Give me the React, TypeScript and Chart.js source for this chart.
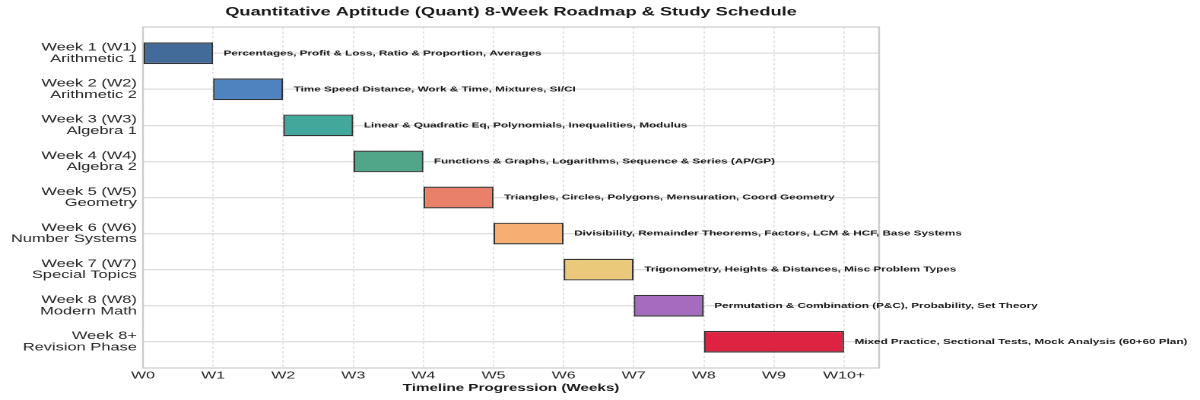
import { useEffect, useRef } from 'react';
import { Chart, registerables } from 'chart.js';

Chart.register(...registerables);

// the reference is stretched sideways, so draw narrow and let CSS widen it
const STRETCH = 1.52;
const LOGICAL_W = Math.round(1200 / STRETCH);
const FONT = '"Liberation Sans", Arial, sans-serif';

const weekLabels = [
  ['Week 1 (W1)', 'Arithmetic 1'],
  ['Week 2 (W2)', 'Arithmetic 2'],
  ['Week 3 (W3)', 'Algebra 1'],
  ['Week 4 (W4)', 'Algebra 2'],
  ['Week 5 (W5)', 'Geometry'],
  ['Week 6 (W6)', 'Number Systems'],
  ['Week 7 (W7)', 'Special Topics'],
  ['Week 8 (W8)', 'Modern Math'],
  ['Week 8+', 'Revision Phase'],
];

const startWeeks = [0, 1, 2, 3, 4, 5, 6, 7, 8];
const endWeeks = [1, 2, 3, 4, 5, 6, 7, 8, 10];

const topics = [
  'Percentages, Profit & Loss, Ratio & Proportion, Averages',
  'Time Speed Distance, Work & Time, Mixtures, SI/CI',
  'Linear & Quadratic Eq, Polynomials, Inequalities, Modulus',
  'Functions & Graphs, Logarithms, Sequence & Series (AP/GP)',
  'Triangles, Circles, Polygons, Mensuration, Coord Geometry',
  'Divisibility, Remainder Theorems, Factors, LCM & HCF, Base Systems',
  'Trigonometry, Heights & Distances, Misc Problem Types',
  'Permutation & Combination (P&C), Probability, Set Theory',
  'Mixed Practice, Sectional Tests, Mock Analysis (60+60 Plan)',
];

const barColors = [
  '#436b9a',
  '#4e83bf',
  '#42a89b',
  '#50a689',
  '#e9806a',
  '#f6ae72',
  '#ebc97a',
  '#a56bbf',
  '#de2242',
];

const xTickLabels = ['W0', 'W1', 'W2', 'W3', 'W4', 'W5', 'W6', 'W7', 'W8', 'W9', 'W10+'];

// topic text to the right of each bar + light frame around the plot
const topicLabels = {
  id: 'topicLabels',
  afterDatasetsDraw(chart: Chart) {
    const { ctx, scales } = chart;
    ctx.save();
    ctx.font = `bold 7.7px ${FONT}`;
    ctx.fillStyle = '#1a1a1a';
    ctx.textAlign = 'left';
    ctx.textBaseline = 'middle';
    topics.forEach((t, i) => {
      const x = scales.x.getPixelForValue(endWeeks[i] + 0.15);
      const y = scales.y.getPixelForValue(i);
      ctx.fillText(t, x, y);
    });
    ctx.restore();
  },
  beforeDatasetsDraw(chart: Chart) {
    const { ctx, chartArea } = chart;
    ctx.save();
    ctx.strokeStyle = '#cccccc';
    ctx.lineWidth = 1.2;
    ctx.strokeRect(chartArea.left, chartArea.top, chartArea.right - chartArea.left, chartArea.bottom - chartArea.top);
    ctx.restore();
  },
};

export default function App() {
  const canvasRef = useRef<HTMLCanvasElement>(null);

  useEffect(() => {
    document.body.style.margin = '0';
    if (!canvasRef.current) return;

    const chart = new Chart(canvasRef.current, {
      type: 'bar',
      data: {
        datasets: [
          {
            data: weekLabels.map((_, i) => ({ x: [startWeeks[i], endWeeks[i]], y: i })) as any,
            backgroundColor: barColors,
            borderColor: '#333333',
            borderWidth: 1.2,
            borderSkipped: false,
            barPercentage: 0.6,
            categoryPercentage: 1,
          },
        ],
      },
      options: {
        indexAxis: 'y',
        responsive: false,
        animation: false,
        devicePixelRatio: 2,
        layout: { padding: { left: 0, right: LOGICAL_W - 578, top: 0, bottom: 0 } },
        plugins: {
          legend: { display: false },
          tooltip: { enabled: false },
          title: {
            display: true,
            fullSize: false,
            text: 'Quantitative Aptitude (Quant) 8-Week Roadmap & Study Schedule',
            color: '#1a1a1a',
            font: { family: FONT, size: 12, weight: 'bold' },
            padding: { top: 5, bottom: 7.6 },
          },
        },
        scales: {
          x: {
            type: 'linear',
            min: 0,
            max: 10.5,
            afterBuildTicks: (axis) => {
              axis.ticks = xTickLabels.map((_, i) => ({ value: i }));
            },
            afterFit: (axis) => {
              axis.height = 32;
            },
            ticks: {
              autoSkip: false,
              maxRotation: 0,
              padding: 1.5,
              color: '#262626',
              font: { family: FONT, size: 10.5 },
              callback: (v) => xTickLabels[Number(v)] ?? '',
            },
            grid: { color: '#d9d9d9', lineWidth: 0.7, drawTicks: false },
            border: { display: false, dash: [2.5, 2] },
            title: {
              display: true,
              text: 'Timeline Progression (Weeks)',
              color: '#1a1a1a',
              font: { family: FONT, size: 10, weight: 'bold' },
              padding: { top: 0, bottom: 6 },
            },
          },
          y: {
            type: 'linear',
            reverse: true,
            offset: false,
            min: -0.73,
            max: 8.73,
            afterBuildTicks: (axis) => {
              axis.ticks = weekLabels.map((_, i) => ({ value: i }));
            },
            afterFit: (axis) => {
              axis.width = 94;
            },
            ticks: {
              autoSkip: false,
              padding: 4,
              color: '#262626',
              font: { family: FONT, size: 10.8, lineHeight: 1.05 },
              callback: (v) => weekLabels[Number(v)] ?? '',
            },
            grid: { color: '#dddddd', lineWidth: 1.3, drawTicks: false, offset: false },
            border: { display: false },
          },
        },
      },
      plugins: [topicLabels],
    });

    return () => chart.destroy();
  }, []);

  return (
    <canvas
      ref={canvasRef}
      width={LOGICAL_W}
      height={400}
      style={{ width: '1200px', height: '400px', display: 'block' }}
    />
  );
}
